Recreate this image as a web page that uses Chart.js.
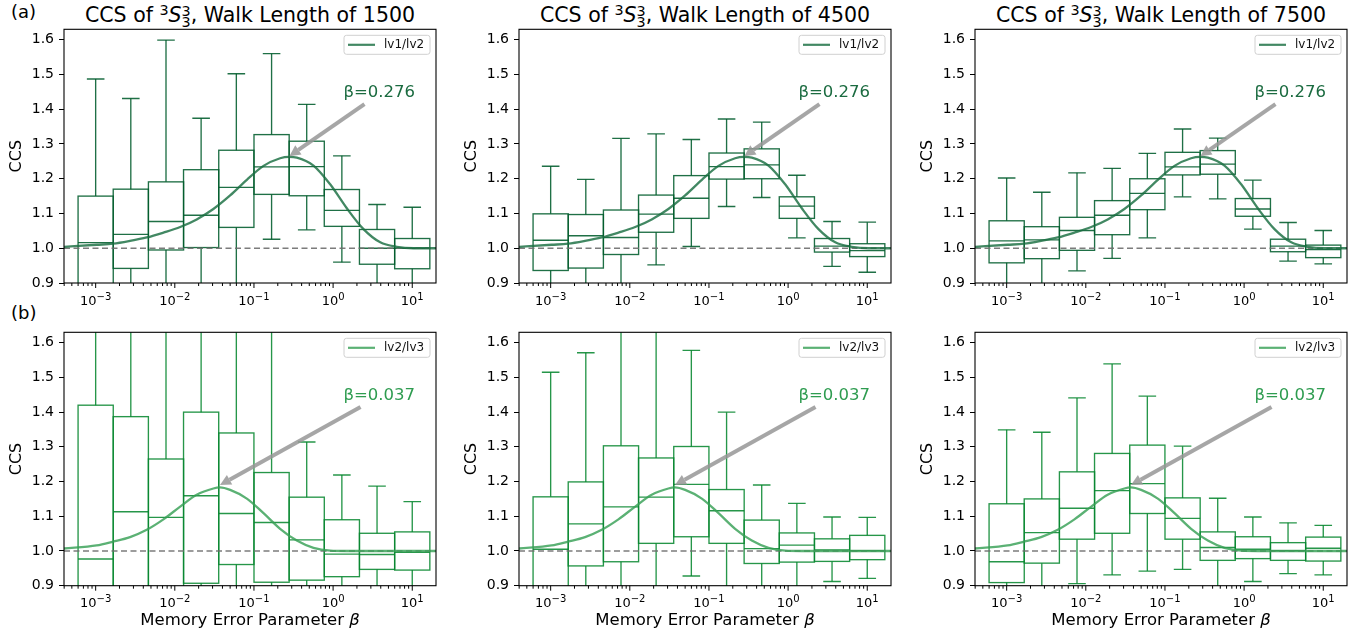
<!DOCTYPE html>
<html>
<head>
<meta charset="utf-8">
<script src="https://cdn.jsdelivr.net/npm/chart.js@4.4.1/dist/chart.umd.min.js"></script>
<style>
body { margin: 0; background: #fff; width: 1364px; height: 633px; position: relative; overflow: hidden;
       font-family: "DejaVu Sans", sans-serif; color: #000; }
canvas { position: absolute; }
.ttl { position: absolute; font-size: 20.5px; line-height: 20.5px; white-space: nowrap; transform: translateX(-50%); }
.ttl .pre { font-size: 0.7em; position: relative; top: -0.55em; }
.ttl .stk { display: inline-block; font-size: 0.7em; line-height: 0.8em; vertical-align: -0.35em; }
.ttl .stk span { display: block; }
.tag { position: absolute; font-size: 18px; line-height: 18px; }
</style>
</head>
<body>
<div class="tag" style="left:11px;top:3px">(a)</div>
<div class="tag" style="left:11px;top:304px">(b)</div>
<div id="titles"></div>

<script>
// box centres (beta) and the fit curves
const boxBeta = [0.001, 0.00278, 0.00774, 0.0215, 0.0599, 0.167, 0.464, 1.29, 3.59, 10];
const walkLengths = [1500, 4500, 7500];

// each box: [low whisker, q1, median, q3, high whisker]
const lv12_1500 = [[0.70,0.86,1.016,1.150,1.487],[0.80,0.942,1.040,1.170,1.431],[0.80,0.995,1.077,1.191,1.599],
  [0.85,1.002,1.095,1.226,1.374],[0.80,1.060,1.175,1.282,1.502],[1.026,1.155,1.234,1.327,1.560],
  [1.053,1.151,1.235,1.308,1.414],[0.960,1.063,1.109,1.169,1.266],[0.88,0.954,1.000,1.054,1.126],[0.88,0.941,1.000,1.028,1.118]];
const lv12_4500 = [[0.85,0.936,1.023,1.099,1.236],[0.88,0.943,1.036,1.097,1.198],[0.88,0.982,1.031,1.110,1.316],
  [0.952,1.046,1.098,1.153,1.329],[1.005,1.086,1.144,1.209,1.313],[1.120,1.199,1.235,1.274,1.372],
  [1.146,1.200,1.240,1.286,1.363],[1.030,1.086,1.121,1.148,1.210],[0.948,0.989,1.006,1.028,1.077],[0.931,0.976,0.993,1.013,1.075]];
const lv12_7500 = [[0.88,0.958,1.021,1.079,1.202],[0.89,0.970,1.024,1.062,1.161],[0.935,0.994,1.051,1.089,1.217],
  [0.971,1.039,1.095,1.137,1.230],[1.030,1.111,1.158,1.200,1.273],[1.148,1.211,1.234,1.276,1.343],
  [1.142,1.213,1.242,1.281,1.317],[1.055,1.092,1.113,1.143,1.196],[0.963,0.990,1.006,1.026,1.074],[0.955,0.973,0.996,1.009,1.051]];
const lv23_1500 = [[0.70,0.85,0.977,1.420,1.80],[0.70,0.85,1.113,1.387,1.80],[0.70,0.87,1.097,1.265,1.80],
  [0.75,0.907,1.159,1.400,1.80],[0.80,0.961,1.108,1.340,1.75],[0.75,0.910,1.082,1.226,1.70],
  [0.80,0.916,1.032,1.155,1.314],[0.85,0.926,0.991,1.090,1.219],[0.88,0.947,0.990,1.051,1.187],[0.88,0.945,0.996,1.055,1.142]];
const lv23_4500 = [[0.75,0.88,1.005,1.156,1.515],[0.80,0.957,1.078,1.199,1.571],[0.80,0.969,1.127,1.303,1.70],
  [0.85,1.022,1.155,1.268,1.70],[0.928,1.041,1.192,1.301,1.578],[0.88,1.022,1.116,1.177,1.400],
  [0.88,0.964,1.007,1.089,1.190],[0.88,0.968,1.017,1.052,1.137],[0.912,0.970,1.003,1.035,1.098],[0.921,0.975,1.001,1.045,1.097]];
const lv23_7500 = [[0.85,0.909,0.969,1.136,1.349],[0.88,0.965,1.053,1.150,1.342],[0.906,1.034,1.123,1.228,1.441],
  [0.931,1.051,1.174,1.281,1.539],[0.942,1.108,1.194,1.305,1.446],[0.947,1.034,1.094,1.153,1.302],
  [0.88,0.973,1.010,1.055,1.152],[0.912,0.978,1.005,1.041,1.098],[0.935,0.973,1.001,1.024,1.081],[0.931,0.971,1.008,1.040,1.074]];

const fitBetaTop = [0.000394, 0.00103, 0.00166, 0.00272, 0.00442, 0.00718, 0.0117, 0.0189, 0.0307, 0.0500, 0.0813,
  0.132, 0.214, 0.276, 0.348, 0.565, 0.918, 1.49, 2.42, 3.94, 6.38, 10.4, 19.9];
const fitLv12 = [1.004, 1.010, 1.013, 1.021, 1.031, 1.045, 1.061, 1.083, 1.113, 1.152, 1.197,
  1.237, 1.259, 1.263, 1.261, 1.238, 1.184, 1.115, 1.055, 1.017, 1.004, 1.000, 1.000];
const fitBetaBot = [0.000394, 0.00103, 0.00166, 0.00272, 0.00442, 0.00718, 0.0117, 0.0189, 0.0307, 0.037, 0.0500,
  0.0813, 0.132, 0.214, 0.348, 0.565, 0.918, 1.49, 19.9];
const fitLv23 = [1.007, 1.016, 1.027, 1.040, 1.061, 1.091, 1.128, 1.162, 1.180, 1.183, 1.176,
  1.151, 1.109, 1.064, 1.030, 1.009, 1.001, 1.000, 1.000];

const peakLabels = ['β=0.276', 'β=0.037'];
const arrowTip = [[0.28, 1.265], [0.0372, 1.19]];
const arrowTail = [[2.49, 1.415], [2.22, 1.415]];
const labelAt = [1.35, 1.434];

const yTicks = [0.9, 1.0, 1.1, 1.2, 1.3, 1.4, 1.5, 1.6];
const xMajor = [0.001, 0.01, 0.1, 1, 10];
const xTickExp = ['−3', '−2', '−1', '0', '1'];
const xTitle = ['Memory Error Parameter ', 'β'];
const xMin = 10 ** -3.4, xMax = 10 ** 1.3;

const rows = [
  { name: 'lv1/lv2', boxes: [lv12_1500, lv12_4500, lv12_7500], fitX: fitBetaTop, fitY: fitLv12,
    box: 'rgba(0,92,44,0.88)', line: 'rgba(25,110,65,0.82)', text: '#1b6b40' },
  { name: 'lv2/lv3', boxes: [lv23_1500, lv23_4500, lv23_7500], fitX: fitBetaBot, fitY: fitLv23,
    box: 'rgba(8,136,48,0.88)', line: 'rgba(55,160,85,0.82)', text: '#2e9c50' }
];

const boxSpan = 10 ** (2 / 9), capSpan = 10 ** (1 / 9);
const colLeft = [0, 455, 911];
const rowTop = [19, 322];
const plotW = 372, plotH = [253.7, 253.4], axisW = 64, xAxisH = [26, 47.3], padTop = 10.3, padRight = 8;

function seg(ctx, x1, y1, x2, y2) { ctx.beginPath(); ctx.moveTo(x1, y1); ctx.lineTo(x2, y2); ctx.stroke(); }

const panelPlugin = {
  id: 'panel',
  beforeDatasetsDraw(chart) {
    const o = chart.options.plugins.panel;
    const { ctx, chartArea: a, scales: { x, y } } = chart;
    ctx.save();
    ctx.beginPath(); ctx.rect(a.left, a.top, a.width, a.height); ctx.clip();
    ctx.strokeStyle = o.color; ctx.lineWidth = 1.35;
    o.boxes.forEach((s, i) => {
      const b = boxBeta[i];
      const xl = x.getPixelForValue(b / boxSpan), xr = x.getPixelForValue(b * boxSpan);
      const xc = x.getPixelForValue(b);
      const cl = x.getPixelForValue(b / capSpan), cr = x.getPixelForValue(b * capSpan);
      const [lo, q1, md, q3, hi] = s.map(v => y.getPixelForValue(v));
      ctx.strokeRect(xl, q3, xr - xl, q1 - q3);
      seg(ctx, xl, md, xr, md);
      seg(ctx, xc, q3, xc, hi); seg(ctx, cl, hi, cr, hi);
      seg(ctx, xc, q1, xc, lo); seg(ctx, cl, lo, cr, lo);
    });
    ctx.restore();
  },
  afterDatasetsDraw(chart) {
    const o = chart.options.plugins.panel;
    const { ctx, chartArea: a, scales: { x, y } } = chart;
    ctx.save();
    // arrow
    const tx = x.getPixelForValue(o.tip[0]), ty = y.getPixelForValue(o.tip[1]);
    const sx = x.getPixelForValue(o.tail[0]), sy = y.getPixelForValue(o.tail[1]);
    const ang = Math.atan2(ty - sy, tx - sx), hl = 11, hw = 5.5;
    const bx = tx - hl * Math.cos(ang), by = ty - hl * Math.sin(ang);
    ctx.strokeStyle = ctx.fillStyle = 'rgba(150,150,150,0.85)';
    ctx.lineWidth = 4;
    seg(ctx, sx, sy, bx, by);
    ctx.beginPath();
    ctx.moveTo(tx, ty);
    ctx.lineTo(bx + hw * Math.sin(ang), by - hw * Math.cos(ang));
    ctx.lineTo(bx - hw * Math.sin(ang), by + hw * Math.cos(ang));
    ctx.closePath(); ctx.fill();
    // peak label
    ctx.fillStyle = o.textColor;
    ctx.font = '16.5px "DejaVu Sans"';
    ctx.textBaseline = 'alphabetic'; ctx.textAlign = 'left';
    ctx.fillText(o.label, x.getPixelForValue(labelAt[0]), y.getPixelForValue(labelAt[1]));
    // frame
    ctx.strokeStyle = '#000'; ctx.lineWidth = 1.1;
    ctx.strokeRect(a.left, a.top, a.width, a.height);
    // x tick marks, minor ones shorter
    ctx.lineWidth = 1;
    x.ticks.forEach(t => {
      const px = x.getPixelForValue(t.value);
      seg(ctx, px, a.bottom, px, a.bottom + (t.major ? 5 : 3));
    });
    // x tick labels as 10 with a raised exponent
    ctx.fillStyle = '#000';
    const base = a.bottom + 21.5;
    xMajor.forEach((v, k) => {
      const px = x.getPixelForValue(v);
      ctx.font = '13px "DejaVu Sans"';
      const w1 = ctx.measureText('10').width;
      ctx.font = '10px "DejaVu Sans"';
      const w2 = ctx.measureText(xTickExp[k]).width;
      const x0 = px - (w1 + w2) / 2;
      ctx.font = '13px "DejaVu Sans"';
      ctx.fillText('10', x0, base);
      ctx.font = '10px "DejaVu Sans"';
      ctx.fillText(xTickExp[k], x0 + w1, base - 5);
    });
    // x axis title with italic beta
    if (o.xTitle) {
      ctx.font = '16.5px "DejaVu Sans"';
      const w1 = ctx.measureText(xTitle[0]).width;
      ctx.font = 'italic 16.5px "DejaVu Sans"';
      const w2 = ctx.measureText(xTitle[1]).width;
      const x0 = (a.left + a.right) / 2 - (w1 + w2) / 2;
      const yb = a.bottom + 39.5;
      ctx.font = '16.5px "DejaVu Sans"';
      ctx.fillText(xTitle[0], x0, yb);
      ctx.font = 'italic 16.5px "DejaVu Sans"';
      ctx.fillText(xTitle[1], x0 + w1, yb);
    }
    // legend
    const lw = 86, lh = 19, lx = a.right - 6 - lw, ly = a.top + 6;
    ctx.fillStyle = 'rgba(255,255,255,0.9)';
    ctx.strokeStyle = '#d0d0d0'; ctx.lineWidth = 1;
    ctx.beginPath(); ctx.roundRect(lx, ly, lw, lh, 2.5); ctx.fill(); ctx.stroke();
    ctx.strokeStyle = o.lineColor; ctx.lineWidth = 2.2;
    seg(ctx, lx + 4, ly + lh / 2, lx + 31, ly + lh / 2);
    ctx.fillStyle = '#111'; ctx.font = '12px "DejaVu Sans"';
    ctx.textBaseline = 'middle';
    ctx.fillText(o.name, lx + 40, ly + lh / 2 + 0.5);
    ctx.restore();
  }
};

const titles = document.getElementById('titles');

rows.forEach((row, r) => {
  walkLengths.forEach((wl, c) => {
    if (r === 0) {
      const d = document.createElement('div');
      d.className = 'ttl';
      d.style.left = (colLeft[c] + axisW + plotW / 2) + 'px';
      d.style.top = '5.4px';
      d.innerHTML = 'CCS of <span class="pre">3</span><i>S</i><span class="stk"><span>3</span><span>3</span></span>, Walk Length of ' + wl;
      titles.appendChild(d);
    }
    const cv = document.createElement('canvas');
    const W = axisW + plotW + padRight, H = padTop + plotH[r] + xAxisH[r];
    cv.width = W; cv.height = Math.round(H);
    cv.style.left = colLeft[c] + 'px'; cv.style.top = rowTop[r] + 'px';
    document.body.appendChild(cv);

    new Chart(cv.getContext('2d'), {
      type: 'line',
      data: {
        datasets: [
          { label: row.name, data: row.fitX.map((b, i) => ({ x: b, y: row.fitY[i] })),
            borderColor: row.line, borderWidth: 2.3, pointRadius: 0, cubicInterpolationMode: 'monotone', fill: false },
          { label: 'ref', data: [{ x: xMin, y: 1 }, { x: xMax, y: 1 }],
            borderColor: 'rgba(110,110,110,0.9)', borderWidth: 1.6, borderDash: [6, 3.5], pointRadius: 0, fill: false }
        ]
      },
      options: {
        responsive: false, animation: false, devicePixelRatio: 1, events: [],
        layout: { padding: { top: padTop, right: padRight, left: 0, bottom: 0 } },
        plugins: {
          legend: { display: false }, tooltip: { enabled: false }, title: { display: false },
          panel: { boxes: row.boxes[c], color: row.box, lineColor: row.line, textColor: row.text, name: row.name,
                   label: peakLabels[r], tip: arrowTip[r], tail: arrowTail[r], xTitle: r === 1 }
        },
        scales: {
          x: {
            type: 'logarithmic', min: xMin, max: xMax, bounds: 'data',
            border: { display: false },
            grid: { display: false, drawTicks: true, tickLength: 5 },
            ticks: { autoSkip: false, maxRotation: 0, padding: 2, color: '#000',
                     font: { family: 'DejaVu Sans', size: 13 }, callback: () => '' },
            afterBuildTicks: s => {
              const t = [];
              for (let e = -4; e <= 1; e++) for (let m = 1; m <= 9; m++) {
                const v = m * 10 ** e;
                if (v >= xMin && v <= xMax) t.push({ value: v, major: m === 1 });
              }
              s.ticks = t;
            },
            afterFit: s => { s.height = xAxisH[r]; s.paddingLeft = 0; s.paddingRight = 0; }
          },
          y: {
            type: 'linear', min: 0.9, max: 1.63,
            border: { display: false },
            grid: { drawOnChartArea: false, drawTicks: true, tickLength: 5, color: '#000', lineWidth: 1 },
            ticks: { padding: 5, color: '#000', font: { family: 'DejaVu Sans', size: 14 },
                     callback: v => v.toFixed(1) },
            title: { display: true, text: 'CCS', color: '#000', font: { family: 'DejaVu Sans', size: 16 },
                     padding: { top: 7, bottom: 0 } },
            afterBuildTicks: s => { s.ticks = yTicks.map(v => ({ value: v })); },
            afterFit: s => { s.width = axisW; s.paddingTop = 0; s.paddingBottom = 0; }
          }
        }
      },
      plugins: [panelPlugin]
    });
  });
});
</script>
</body>
</html>
